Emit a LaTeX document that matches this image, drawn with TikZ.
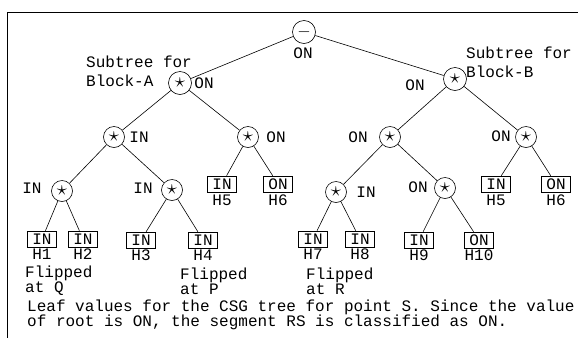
\documentclass[tikz,border=0pt]{standalone}
\usepackage{fontspec}
\setmainfont{Liberation Mono}
\usepackage{tikz}
\usetikzlibrary{positioning}

\newcommand{\opstar}{{\fontsize{22}{22}\selectfont$\star$}}

\begin{document}
\begin{tikzpicture}[
  x=1pt, y=-1pt,
  every node/.style={font=\fontsize{16}{18}\selectfont, inner sep=1pt},
  op/.style={circle, draw, line width=0.6pt, minimum size=21pt, inner sep=0pt},
  leaf/.style={rectangle, draw, line width=0.6pt, minimum width=29pt, minimum height=16pt},
  val/.style={inner sep=0pt},
  note/.style={align=left, anchor=west, inner sep=0pt},
  edge/.style={line width=0.6pt}
]
  \useasboundingbox (0,0) rectangle (578,338);

  % Frame
  \draw[line width=0.7pt] (578,12) -- (7,12) -- (7,338);

  % Root
  \node[op, minimum size=23pt] (root) at (304,32) {$-$};
  \node[val] (rootv) at (303,53) {ON};

  % Block-A subtree
  \node[op, minimum size=23pt] (blkA) at (180,83) {\opstar};
  \node[val] (blkAv) at (204,83) {ON};
  \node[note, font=\fontsize{16}{19}\selectfont] (subA) at (86,71) {Subtree for\\Block-A};

  \node[op] (a1) at (114,137) {\opstar};
  \node[val] (a1v) at (139,137) {IN};
  \node[op] (a2) at (248,137) {\opstar};
  \node[val] (a2v) at (276,137) {ON};

  \node[op] (a11) at (62,191) {\opstar};
  \node[val] (a11v) at (32,188) {IN};
  \node[op] (a12) at (172,190) {\opstar};
  \node[val] (a12v) at (143,188) {IN};

  % Block-B subtree
  \node[op, minimum size=23pt] (blkB) at (455,79) {\opstar};
  \node[val] (blkBv) at (415,85) {ON};
  \node[note, font=\fontsize{16}{19}\selectfont] (subB) at (466,62) {Subtree for\\Block-B};

  \node[op] (b1) at (390,137) {\opstar};
  \node[val] (b1v) at (358,137) {ON};
  \node[op] (b2) at (526,137) {\opstar};
  \node[val] (b2v) at (501,136) {ON};

  \node[op] (b11) at (336,192) {\opstar};
  \node[val] (b11v) at (366,192) {IN};
  \node[op] (b12) at (445,188) {\opstar};
  \node[val] (b12v) at (418,187) {ON};

  % Leaves
  \node[leaf] (h1) at (42,239) {IN};   \node (h1n) [below=0.5pt of h1] {H1};
  \node[leaf] (h2) at (83,239) {IN};   \node (h2n) [below=0.5pt of h2] {H2};
  \node[leaf] (h3) at (141,240) {IN};  \node (h3n) [below=0.5pt of h3] {H3};
  \node[leaf] (h4) at (203,240) {IN};  \node (h4n) [below=0.5pt of h4] {H4};
  \node[leaf] (h5a) at (222,184) {IN}; \node (h5an) [below=1pt of h5a] {H5};
  \node[leaf] (h6a) at (278,184) {ON}; \node (h6an) [below=1pt of h6a] {H6};
  \node[leaf] (h7) at (313,239) {IN};  \node (h7n) [below=0.5pt of h7] {H7};
  \node[leaf] (h8) at (360,239) {IN};  \node (h8n) [below=0.5pt of h8] {H8};
  \node[leaf] (h9) at (419,240) {IN};  \node (h9n) [below=0.5pt of h9] {H9};
  \node[leaf] (h10) at (479,240) {ON}; \node (h10n) [below=0.5pt of h10] {H10};
  \node[leaf] (h5b) at (496,184) {IN}; \node (h5bn) [below=1pt of h5b] {H5};
  \node[leaf] (h6b) at (556,184) {ON}; \node (h6bn) [below=1pt of h6b] {H6};

  % Flip notes
  \node[note, font=\fontsize{16}{13}\selectfont] (flipQ) at (25,281) {Flipped\\at Q};
  \node[note, font=\fontsize{16}{13}\selectfont] (flipP) at (180,281) {Flipped\\at P};
  \node[note, font=\fontsize{16}{13}\selectfont] (flipR) at (306,281) {Flipped\\at R};

  % Caption
  \node[note, font=\fontsize{16}{15}\selectfont] (cap) at (27,315)
    {Leaf values for the CSG tree for point S. Since the value\\
     of root is ON, the segment RS is classified as ON.};

  % Edges
  \draw[edge] (root) -- (blkA);
  \draw[edge] (root) -- (blkB);
  \draw[edge] (blkA) -- (a1);
  \draw[edge] (blkA) -- (a2);
  \draw[edge] (a1) -- (a11);
  \draw[edge] (a1) -- (a12);
  \draw[edge] (a11) -- (h1);
  \draw[edge] (a11) -- (h2);
  \draw[edge] (a12) -- (h3);
  \draw[edge] (a12) -- (h4);
  \draw[edge] (a2) -- (h5a);
  \draw[edge] (a2) -- (h6a);
  \draw[edge] (blkB) -- (b1);
  \draw[edge] (blkB) -- (b2);
  \draw[edge] (b1) -- (b11);
  \draw[edge] (b1) -- (b12);
  \draw[edge] (b11) -- (h7);
  \draw[edge] (b11) -- (h8);
  \draw[edge] (b12) -- (h9);
  \draw[edge] (b12) -- (h10);
  \draw[edge] (b2) -- (h5b);
  \draw[edge] (b2) -- (h6b);
\end{tikzpicture}
\end{document}
